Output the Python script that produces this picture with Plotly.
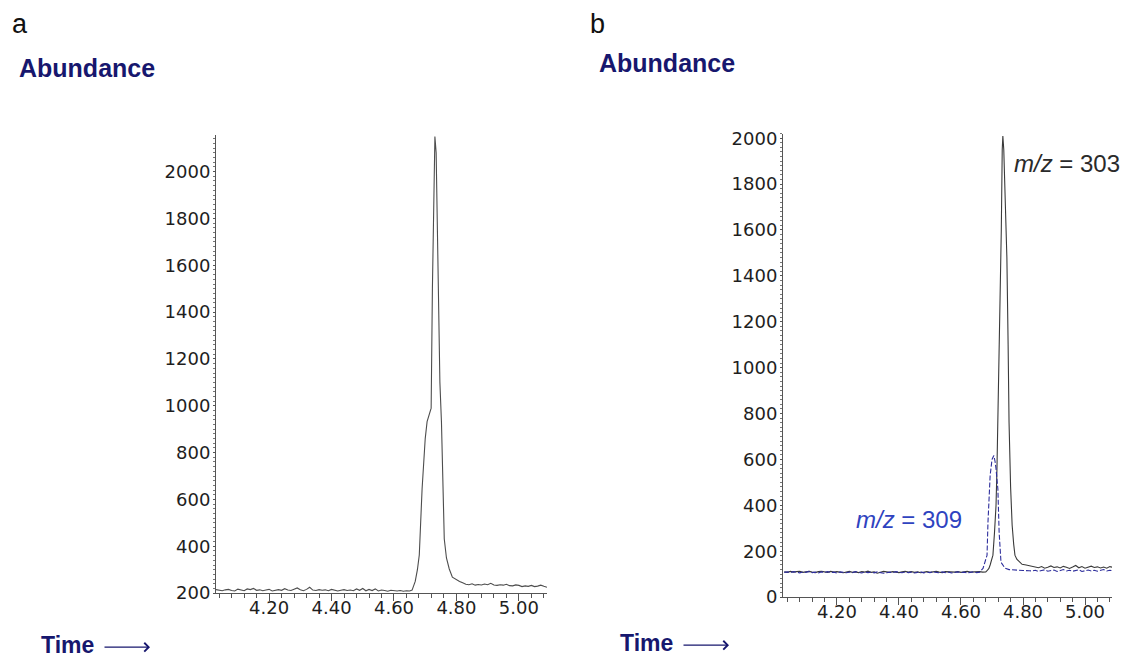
import plotly.graph_objects as go

# ---------------- data ----------------
# shared baseline time points (min)
time_left = [4.03, 4.04, 4.05, 4.06, 4.07, 4.08, 4.09, 4.10, 4.11, 4.12,
             4.13, 4.14, 4.15, 4.16, 4.17, 4.18, 4.19, 4.20, 4.21, 4.22,
             4.23, 4.24, 4.25, 4.26, 4.27, 4.28, 4.29, 4.30, 4.31, 4.32,
             4.33, 4.34, 4.35, 4.36, 4.37, 4.38, 4.39, 4.40, 4.41, 4.42,
             4.43, 4.44, 4.45, 4.46, 4.47, 4.48, 4.49, 4.50, 4.51, 4.52,
             4.53, 4.54, 4.55, 4.56, 4.57, 4.58, 4.59, 4.60, 4.61, 4.62,
             4.63, 4.64, 4.65]
time_right = [4.83, 4.84, 4.85, 4.86, 4.87, 4.88, 4.89, 4.90, 4.91, 4.92,
              4.93, 4.94, 4.95, 4.96, 4.97, 4.98, 4.99, 5.00, 5.01, 5.02,
              5.03, 5.04, 5.05, 5.06, 5.07, 5.08, 5.09]

# Panel a : total signal
a_left = [215, 212, 210, 214, 216, 211, 209, 217, 213, 210,
          218, 215, 220, 212, 214, 210, 213, 216, 209, 211,
          215, 212, 219, 213, 211, 217, 222, 214, 210, 216,
          225, 213, 211, 215, 212, 214, 210, 216, 213, 209,
          212, 215, 211, 213, 210, 218, 212, 220, 210, 216,
          211, 218, 209, 213, 211, 208, 212, 210, 209, 211,
          208, 210, 209]
a_peak_time = [4.658, 4.668, 4.675, 4.681, 4.690, 4.700, 4.706, 4.713, 4.719, 4.723,
               4.727, 4.731, 4.735, 4.739, 4.742, 4.747, 4.752, 4.757, 4.761, 4.768,
               4.777, 4.787, 4.800, 4.810, 4.820]
a_peak = [213, 250, 300, 363, 645, 860, 932, 960, 990, 1500,
          1950, 2150, 2080, 1700, 1360, 1100, 932, 650, 431, 350,
          303, 268, 256, 250, 244]
a_right = [238, 236, 240, 234, 237, 235, 239, 236, 242, 235,
           233, 236, 234, 238, 232, 231, 235, 233, 228, 231,
           229, 233, 228, 230, 234, 229, 225]

# Panel b : m/z 303
b303_left = [110, 108, 112, 109, 111, 113, 108, 110, 112, 109,
             107, 111, 113, 110, 108, 112, 109, 111, 110, 106,
             109, 112, 108, 110, 107, 111, 109, 113, 108, 110,
             104, 109, 112, 110, 108, 111, 109, 107, 110, 112,
             109, 111, 108, 110, 106, 109, 111, 108, 110, 112,
             109, 107, 111, 110, 108, 109, 111, 108, 110, 112,
             109, 110, 108]
b303_peak_time = [4.66, 4.67, 4.68, 4.684, 4.690, 4.694, 4.699, 4.703, 4.708, 4.713,
                  4.716, 4.719, 4.723, 4.726, 4.730, 4.733, 4.735, 4.738, 4.742, 4.748,
                  4.752, 4.755, 4.760, 4.765, 4.770, 4.774, 4.780, 4.790, 4.797, 4.810,
                  4.820]
b303_peak = [111, 109, 110, 115, 125, 140, 165, 183, 280, 400,
             560, 761, 1000, 1183, 1600, 1950, 2010, 1950, 1750, 1480,
             1100, 761, 480, 313, 230, 183, 165, 150, 143, 140,
             137]
b303_right = [135, 131, 128, 133, 126, 130, 136, 129, 132, 127,
              134, 130, 125, 131, 138, 128, 133, 126, 130, 135,
              129, 132, 127, 131, 126, 133, 130]

# Panel b : m/z 309
b309_left = [108, 110, 107, 111, 109, 106, 110, 108, 112, 107,
             109, 106, 110, 108, 111, 107, 109, 105, 110, 108,
             106, 109, 107, 111, 108, 105, 110, 107, 109, 106,
             110, 108, 104, 106, 109, 107, 111, 108, 106, 110,
             107, 109, 105, 108, 110, 106, 109, 107, 111, 108,
             106, 110, 107, 109, 105, 108, 110, 107, 109, 106,
             108, 110, 107]
b309_peak_time = [4.66, 4.671, 4.677, 4.684, 4.687, 4.690, 4.694, 4.700, 4.704, 4.706,
                  4.710, 4.713, 4.719, 4.723, 4.729, 4.736, 4.742, 4.755, 4.774, 4.800,
                  4.820]
b309_peak = [109, 125, 150, 183, 326, 430, 530, 600, 612, 617,
             590, 560, 470, 283, 152, 135, 126, 120, 117, 116,
             115]
b309_right = [114, 117, 112, 116, 119, 113, 115, 118, 112, 116,
              120, 114, 117, 113, 116, 119, 112, 115, 118, 114,
              117, 113, 116, 120, 114, 117, 115]

a_ticks = [200, 400, 600, 800, 1000, 1200, 1400, 1600, 1800, 2000]
b_ticks = [0, 200, 400, 600, 800, 1000, 1200, 1400, 1600, 1800, 2000]
x_ticks = [4.20, 4.40, 4.60, 4.80, 5.00]
x_ticklabels = ["4.20", "4.40", "4.60", "4.80", "5.00"]

# ---------------- figure ----------------
X_OFF = 8                    # page offset of the figure, horizontal
Y_OFF, Y_SCALE = 12.5, 0.975  # observed vertical mapping of the screenshot
W, H = 1114, 668
NAVY = "#17176e"
TICKFONT = dict(family="DejaVu Sans", size=18, color="#1e1e1e")


def px_x(p):
    return (p - X_OFF) / W


def px_y(p):
    return 1 - ((p - Y_OFF) / Y_SCALE) / H


fig = go.Figure()
fig.add_trace(go.Scatter(x=time_left + a_peak_time + time_right,
                         y=a_left + a_peak + a_right,
                         mode="lines", line=dict(color="#4d4d4d", width=1.1),
                         xaxis="x", yaxis="y", showlegend=False))
fig.add_trace(go.Scatter(x=time_left + b303_peak_time + time_right,
                         y=b303_left + b303_peak + b303_right,
                         mode="lines", line=dict(color="#3a3a3a", width=1.1),
                         xaxis="x2", yaxis="y2", showlegend=False))
fig.add_trace(go.Scatter(x=time_left + b309_peak_time + time_right,
                         y=b309_left + b309_peak + b309_right,
                         mode="lines", line=dict(color="#2e2e9c", width=1.1, dash="5px,2px"),
                         xaxis="x2", yaxis="y2", showlegend=False))


def xaxis_style(domain, rng):
    return dict(domain=domain, range=rng, tickvals=x_ticks, ticktext=x_ticklabels,
                showline=True, linecolor="#555", linewidth=1, showgrid=False, zeroline=False,
                ticks="outside", ticklen=7, tickcolor="#555", tickwidth=1, tickfont=TICKFONT,
                ticklabelstandoff=-9,
                minor=dict(dtick=0.04, tick0=4.2, ticks="outside", ticklen=4,
                           tickcolor="#555", tickwidth=1, showgrid=False))


def yaxis_style(domain, rng, vals, anchor):
    return dict(domain=domain, range=rng, tickvals=vals, anchor=anchor,
                showline=True, linecolor="#555", linewidth=1, showgrid=False, zeroline=False,
                ticks="outside", ticklen=2, tickcolor="#555", tickwidth=1, tickfont=TICKFONT,
                ticklabelstandoff=-1,
                minor=dict(dtick=20, tick0=0, ticks="outside", ticklen=2,
                           tickcolor="#777", tickwidth=1, showgrid=False))


fig.update_layout(
    width=W, height=H, autosize=False,
    margin=dict(l=0, r=0, t=0, b=0),
    paper_bgcolor="white", plot_bgcolor="white",
    xaxis=xaxis_style([px_x(216), px_x(547)], [4.03, 5.09]) | dict(anchor="y"),
    yaxis=yaxis_style([px_y(591), px_y(133)], [200, 2158], a_ticks, "x"),
    xaxis2=xaxis_style([px_x(783), px_x(1112)], [4.026, 5.087]) | dict(anchor="y2"),
    yaxis2=yaxis_style([px_y(595), px_y(132)], [0, 2020], b_ticks, "x2"),
)

annotations = [
    dict(text="a", x=px_x(10), y=px_y(22), xanchor="left", yanchor="middle",
         font=dict(family="Liberation Sans", size=27, color="#111")),
    dict(text="b", x=px_x(588), y=px_y(22), xanchor="left", yanchor="middle",
         font=dict(family="Liberation Sans", size=27, color="#111")),
    dict(text="<b>Abundance</b>", x=px_x(17), y=px_y(66), xanchor="left", yanchor="middle",
         font=dict(family="Liberation Sans", size=25, color=NAVY)),
    dict(text="<b>Abundance</b>", x=px_x(597), y=px_y(61), xanchor="left", yanchor="middle",
         font=dict(family="Liberation Sans", size=25, color=NAVY)),
    dict(text="<b>Time</b>", x=px_x(39), y=px_y(643), xanchor="left", yanchor="middle",
         font=dict(family="Liberation Sans", size=23, color=NAVY)),
    dict(text="<b>Time</b>", x=px_x(618), y=px_y(641), xanchor="left", yanchor="middle",
         font=dict(family="Liberation Sans", size=23, color=NAVY)),
    dict(text="<i>m/z</i> = 303", x=px_x(1012), y=px_y(162), xanchor="left", yanchor="middle",
         font=dict(family="Liberation Sans", size=24, color="#2a2a2a")),
    dict(text="<i>m/z</i> = 309", x=px_x(854), y=px_y(517), xanchor="left", yanchor="middle",
         font=dict(family="Liberation Sans", size=24, color="#2f43c0")),
]
for a in annotations:
    a.update(xref="paper", yref="paper", showarrow=False)

# "Time ->" arrows (tail offset given in pixels)
for x0, x1, yy in [(103, 150, 645), (682, 729, 643)]:
    annotations.append(dict(text="", xref="paper", yref="paper",
                            x=px_x(x1), y=px_y(yy), ax=x0 - x1, ay=0,
                            axref="pixel", ayref="pixel", showarrow=True,
                            arrowhead=4, arrowsize=1.3, arrowwidth=1.3, arrowcolor=NAVY))

fig.update_layout(annotations=annotations)
fig.write_html("out.html")
